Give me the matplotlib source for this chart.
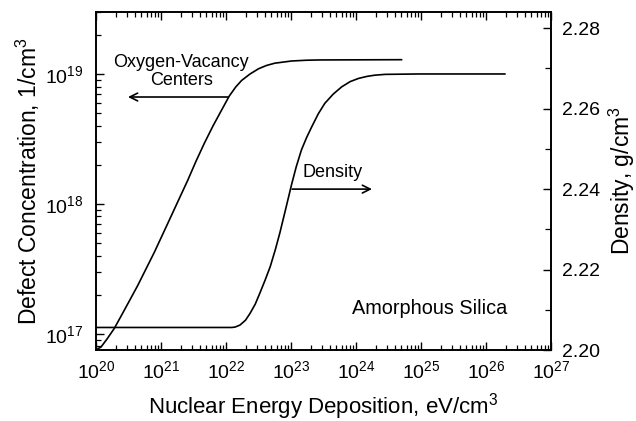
import numpy as np
import matplotlib
matplotlib.use("Agg")
import matplotlib.pyplot as plt
from matplotlib.ticker import LogLocator, MultipleLocator, FormatStrFormatter, NullFormatter

plt.rcParams['font.family'] = ['Liberation Sans', 'DejaVu Sans']
plt.rcParams['mathtext.fontset'] = 'custom'
plt.rcParams['mathtext.rm'] = 'Liberation Sans'
plt.rcParams['mathtext.it'] = 'Liberation Sans:italic'
plt.rcParams['mathtext.bf'] = 'Liberation Sans:bold'
plt.rcParams['mathtext.default'] = 'regular'

# Oxygen-vacancy centers (left axis): log10(energy deposition), log10(defect conc.)
ov_logx = [20.03, 20.077, 20.17, 20.28, 20.39, 20.51, 20.64, 20.77, 20.90, 21.03,
           21.16, 21.28, 21.41, 21.54, 21.67, 21.80, 21.93, 22.05, 22.15, 22.24,
           22.37, 22.50, 22.62, 22.75, 23.01, 23.25, 23.45, 24.70]
ov_logy = [16.885, 16.898, 16.96, 17.04, 17.14, 17.25, 17.37, 17.50, 17.63, 17.77,
           17.91, 18.04, 18.18, 18.33, 18.47, 18.60, 18.72, 18.83, 18.90, 18.95,
           19.00, 19.04, 19.065, 19.083, 19.10, 19.106, 19.108, 19.11]

# Density (right axis): log10(energy deposition), density g/cm^3
den_logx = [20.00, 22.09, 22.14, 22.215, 22.30, 22.37, 22.45, 22.52, 22.60, 22.68,
            22.76, 22.83, 22.91, 23.01, 23.08, 23.16, 23.24, 23.32, 23.42, 23.52,
            23.65, 23.78, 23.91, 24.04, 24.17, 24.29, 24.45, 24.98, 26.29]
den_val = [2.2056, 2.2056, 2.2057, 2.2062, 2.2074, 2.2091, 2.2114, 2.2141, 2.2173, 2.2207,
           2.2250, 2.2292, 2.2345, 2.2412, 2.2455, 2.2497, 2.2528, 2.2555, 2.2587, 2.2613,
           2.2636, 2.2654, 2.2667, 2.2675, 2.2680, 2.2683, 2.2685, 2.2686, 2.2686]

right_ticks = [2.20, 2.22, 2.24, 2.26, 2.28]

fig = plt.figure(figsize=(6.36, 4.21), dpi=100)
ax = fig.add_axes([96/636, 1-350/421, 455/636, 338/421])
ax2 = ax.twinx()

lw = 1.2
ax.plot(10**np.array(ov_logx), 10**np.array(ov_logy), color='black', lw=lw)
ax2.plot(10**np.array(den_logx), den_val, color='black', lw=lw)

ax.set_xscale('log')
ax.set_yscale('log')
ax.set_xlim(1e20, 1e27)
ax.set_ylim(7.5e16, 3e19)
ax2.set_ylim(2.20, 2.284)

ax.xaxis.set_major_locator(LogLocator(base=10, numticks=20))
ax.xaxis.set_minor_locator(LogLocator(base=10, subs=np.arange(2, 10), numticks=100))
ax.xaxis.set_minor_formatter(NullFormatter())
ax.yaxis.set_major_locator(LogLocator(base=10, numticks=20))
ax.yaxis.set_minor_locator(LogLocator(base=10, subs=np.arange(2, 10), numticks=100))
ax.yaxis.set_minor_formatter(NullFormatter())

ax2.set_yticks(right_ticks)
ax2.yaxis.set_minor_locator(MultipleLocator(0.01))
ax2.yaxis.set_major_formatter(FormatStrFormatter('%.2f'))

ax.tick_params(axis='x', which='both', direction='in', top=True, bottom=True, labelsize=14, pad=7)
ax.tick_params(axis='y', which='both', direction='in', left=True, right=False, labelsize=14, pad=9)
ax.tick_params(which='major', length=6, width=1.0)
ax.tick_params(which='minor', length=3.5, width=0.9)
ax2.tick_params(axis='y', which='both', direction='in', right=True, left=False, labelsize=14, pad=8)
ax2.tick_params(which='major', length=6, width=1.0)
ax2.tick_params(which='minor', length=4, width=0.9)

for a in (ax, ax2):
    for s in a.spines.values():
        s.set_linewidth(1.2)

ax.set_xlabel('Nuclear Energy Deposition, eV/cm$^3$', fontsize=16, labelpad=6.5)
ax.set_ylabel('Defect Concentration, 1/cm$^3$', fontsize=16.5, labelpad=2.5)
ax2.set_ylabel('Density, g/cm$^3$', fontsize=16.5, labelpad=5)

ax.text(0.187, 0.825, 'Oxygen-Vacancy\nCenters', transform=ax.transAxes, ha='center',
        va='center', fontsize=13, linespacing=1.1)
ax.annotate('', xy=(0.0703, 0.7485), xytext=(0.290, 0.7485), xycoords='axes fraction',
            textcoords='axes fraction',
            arrowprops=dict(arrowstyle='->', lw=1.2, color='black', shrinkA=0, shrinkB=0,
                            mutation_scale=14))
ax.text(0.453, 0.5237, 'Density', transform=ax.transAxes, ha='left', va='center', fontsize=13)
ax.annotate('', xy=(0.6066, 0.476), xytext=(0.431, 0.476), xycoords='axes fraction',
            textcoords='axes fraction',
            arrowprops=dict(arrowstyle='->', lw=1.2, color='black', shrinkA=0, shrinkB=0,
                            mutation_scale=14))
ax.text(0.733, 0.124, 'Amorphous Silica', transform=ax.transAxes, ha='center', va='center',
        fontsize=14.3)

fig.savefig('out.png', dpi=100)
